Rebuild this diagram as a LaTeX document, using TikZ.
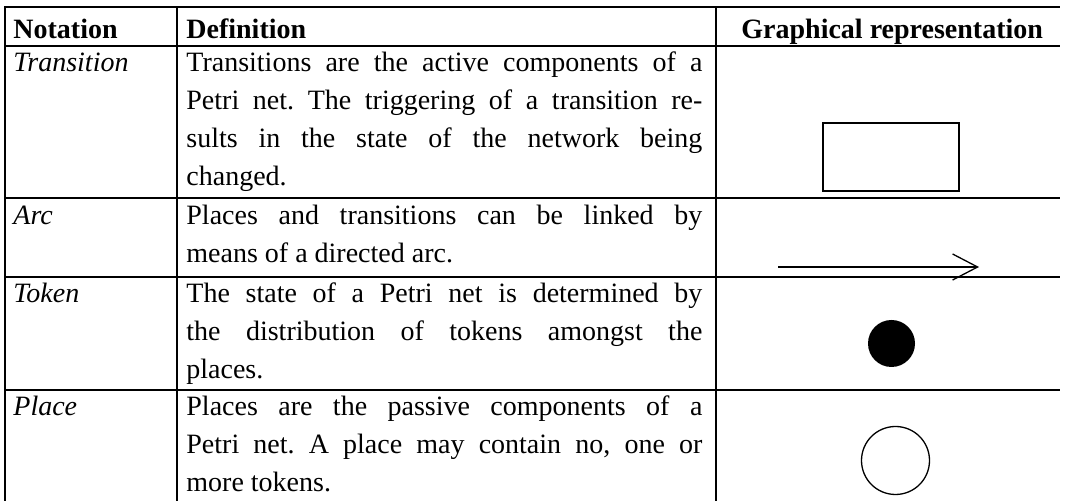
\documentclass[tikz,border=0pt]{standalone}
\usepackage{fontspec}
\setmainfont{Liberation Serif}
\usetikzlibrary{arrows.meta}
% a justified line of the definition column
\newcommand\jline[1]{\makebox[258pt][s]{#1}}
\begin{document}
\frenchspacing
\begin{tikzpicture}[x=0.5pt,y=-0.5pt,
  txt/.style={inner sep=0pt, anchor=base west, font=\fontsize{14pt}{19pt}\selectfont},
  hd/.style={txt, font=\fontsize{14pt}{19pt}\selectfont\bfseries},
  nt/.style={txt, font=\fontsize{14pt}{19pt}\selectfont\itshape},
  rulebar/.style={line width=1pt},
  sym/.style={line width=0.65pt}]
\useasboundingbox (0,0) rectangle (1066,501);

% table rules
\foreach \y in {7,46.5,198,277,390}
  \draw[rulebar] (4.5,\y) -- (1060,\y);
\foreach \x in {5,177,716}
  \draw[rulebar] (\x,6.5) -- (\x,501);

% header
\node[hd] (hnot) at (13,39) {Notation};
\node[hd] (hdef) at (186,39) {Definition};
\node[hd] (hgra) at (741,39) {Graphical representation};

% Transition
\node[nt] (ntr) at (13,72) {Transition};
\node[txt] (dtr1) at (186,72) {\jline{Transitions are the active components of a}};
\node[txt] (dtr2) at (186,110) {\jline{Petri net. The triggering of a transition re-}};
\node[txt] (dtr3) at (186,148) {\jline{sults in the state of the network being}};
\node[txt] (dtr4) at (186,186) {changed.};
\draw[sym] (823,123) rectangle (959,191);
\node[inner sep=0pt, minimum width=68pt, minimum height=34pt] (trans) at (891,157) {};

% Arc
\node[nt] (narc) at (13,225) {Arc};
\node[txt] (darc1) at (186,225) {\jline{Places and transitions can be linked by}};
\node[txt] (darc2) at (186,263) {means of a directed arc.};
\coordinate (arcA) at (778,267);
\coordinate (arcB) at (979,267);
\draw[sym, -{Straight Barb[length=12.5pt,width=13pt,line width=0.65pt]}] (arcA) -- (arcB);

% Token
\node[nt] (ntok) at (13,303) {Token};
\node[txt] (dtok1) at (186,303) {\jline{The state of a Petri net is determined by}};
\node[txt] (dtok2) at (186,341) {\jline{the distribution of tokens amongst the}};
\node[txt] (dtok3) at (186,379) {places.};
\node[circle, fill=black, inner sep=0pt, minimum size=23.5pt] (token) at (891.5,343.5) {};

% Place
\node[nt] (npl) at (13,416) {Place};
\node[txt] (dpl1) at (186,416) {\jline{Places are the passive components of a}};
\node[txt] (dpl2) at (186,454) {\jline{Petri net. A place may contain no, one or}};
\node[txt] (dpl3) at (186,492) {more tokens.};
\node[circle, draw, sym, inner sep=0pt, minimum size=34pt] (place) at (895.5,460.5) {};
\end{tikzpicture}
\end{document}
